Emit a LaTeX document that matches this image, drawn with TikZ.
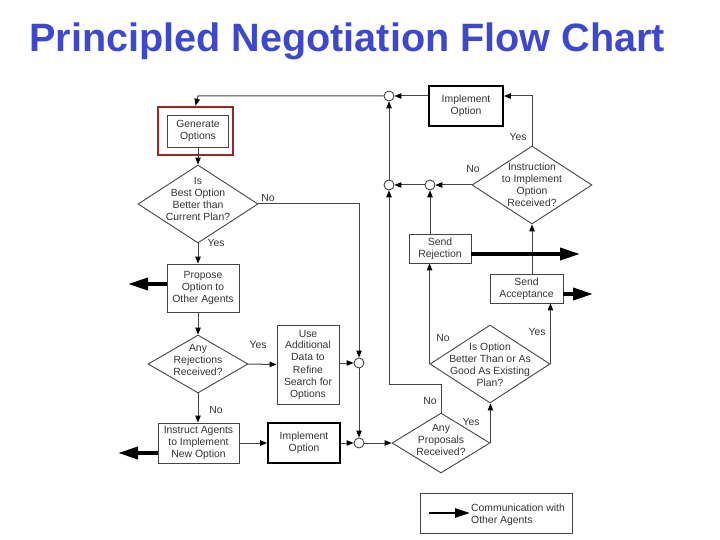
\documentclass[tikz,border=0pt]{standalone}
\usepackage{fontspec}
\setmainfont{Liberation Sans}
\usetikzlibrary{arrows.meta,shapes.geometric}
\definecolor{linegray}{HTML}{444444}
\definecolor{textgray}{HTML}{333333}
\definecolor{titleblue}{RGB}{62,72,204}
\definecolor{hlred}{RGB}{160,36,36}
\newcommand{\chartfont}{\fontsize{10.4}{12}\selectfont}
\tikzset{
  box/.style={draw=linegray, line width=0.9pt, align=center, inner sep=0pt, font=\chartfont, text=textgray},
  thickbox/.style={box, draw=black, line width=1.8pt},
  dia/.style={draw=linegray, line width=0.9pt, diamond, inner sep=0pt},
  txt/.style={align=center, inner sep=0pt, font=\chartfont, text=textgray},
  lbl/.style={inner sep=0pt, font=\chartfont, text=textgray},
  junc/.style={circle, draw=linegray, line width=0.9pt, fill=white, minimum size=10pt, inner sep=0pt},
  arr/.style={draw=linegray, line width=1pt, -{Triangle[length=7pt,width=5.5pt,color=black]}},
  comm/.style={draw=black, line width=3.5pt, -{Triangle[length=20pt,width=12pt]}},
  hlbox/.style={draw=hlred, line width=2.5pt, inner sep=0pt},
}
\begin{document}
\begin{tikzpicture}[x=1pt,y=-1pt]
\useasboundingbox (0,0) rectangle (720,540);

% title
\node[anchor=base west, inner sep=0pt, text=titleblue, font=\fontsize{39.6}{42}\selectfont\bfseries] (ttl) at (29,52) {Principled Negotiation Flow Chart};

% left column
\node[box, minimum width=61pt, minimum height=32pt] (gen) at (198,131) {Generate\\Options};
\node[dia, minimum width=120pt, minimum height=78pt] (d1) at (198,204) {};
\node[txt] (d1t) at (198,199) {Is\\Best Option\\Better than\\Current Plan?};
\node[box, minimum width=72pt, minimum height=48pt] (prop) at (203,288) {Propose\\Option to\\Other Agents};
\node[dia, minimum width=100pt, minimum height=58pt] (d2) at (198,364) {};
\node[txt] (d2t) at (198,360) {Any\\Rejections\\Received?};
\node[box, minimum width=62pt, minimum height=79pt] (use) at (308,364.5) {Use\\Additional\\Data to\\Refine\\Search for\\Options};
\node[box, minimum width=81pt, minimum height=40pt] (ins) at (198.5,443) {Instruct Agents\\to Implement\\New Option};
\node[thickbox, minimum width=72pt, minimum height=40pt] (imp1) at (304,443) {Implement\\Option};

% junctions
\node[junc] (c1) at (359,363) {};
\node[junc] (c2) at (359,443) {};
\node[junc] (c3) at (389,96) {};
\node[junc] (c4) at (389,185) {};
\node[junc] (c5) at (430,185) {};

% right part
\node[dia, minimum width=98pt, minimum height=60pt] (d3) at (441,443) {};
\node[txt] (d3t) at (441,440) {Any\\Proposals\\Received?};
\node[dia, minimum width=120pt, minimum height=78pt] (d4) at (490,364) {};
\node[txt] (d4t) at (490,365) {Is Option\\Better Than or As\\Good As Existing\\Plan?};
\node[box, minimum width=62pt, minimum height=29pt] (rej) at (440,248.5) {Send\\Rejection};
\node[box, minimum width=73pt, minimum height=29pt] (acc) at (526.5,288.5) {Send\\Acceptance};
\node[dia, minimum width=120pt, minimum height=78pt] (d5) at (532,185) {};
\node[txt] (d5t) at (532,185) {Instruction\\to Implement\\Option\\Received?};
\node[thickbox, minimum width=74pt, minimum height=40pt] (imp2) at (466,106) {Implement\\Option};

% highlight
\node[hlbox, minimum width=75pt, minimum height=48pt] (hl) at (195.5,131) {};

% free ends
\coordinate (po) at (128,284);
\coordinate (io) at (118,453);
\coordinate (ro) at (580,254);
\coordinate (ao) at (593,294);
\coordinate (k1) at (359,204);
\coordinate (k2) at (441,384);
\coordinate (k3) at (389,384);
\coordinate (k4) at (532,96);
\coordinate (k5) at (198,96);

% connectors
\draw[arr] (c3.west) -- (k5) -- (hl.north);
\draw[arr] (gen.south) -- (d1.north);
\draw[arr] (d1.east) -- (k1) -- (c1.north);
\draw[arr] (d1.south) -- (d1.south |- prop.north);
\draw[arr] (d1.south |- prop.south) -- (d2.north);
\draw[arr] (d2.east) -- (use.west);
\draw[arr] (use.east |- c1) -- (c1.west);
\draw[arr] (c1.south) -- (c2.north);
\draw[arr] (d2.south) -- (d2.south |- ins.north);
\draw[arr] (ins.east) -- (imp1.west);
\draw[arr] (imp1.east) -- (c2.west);
\draw[arr] (c2.east) -- (d3.west);
\draw[arr] (d3.north) -- (k2) -- (k3) -- (c4.south);
\draw[arr] (c4.north) -- (c3.south);
\draw[arr] (d3.east) -- (d3.east |- d4.south);
\draw[arr] (d4.west) -- (d4.west |- rej.south);
\draw[arr] (d4.east) -- (d4.east |- acc.south);
\draw[arr] (d5.south |- acc.north) -- (d5.south);
\draw[arr] (c5 |- rej.north) -- (c5.south);
\draw[arr] (d5.west) -- (c5.east);
\draw[arr] (c5.west) -- (c4.east);
\draw[arr] (d5.north) -- (k4) -- (imp2.east |- k4);
\draw[arr] (imp2.west |- c3) -- (c3.east);

% communication arrows
\draw[comm] (prop.west |- po) -- (po);
\draw[comm] (ins.west |- io) -- (io);
\draw[comm] (rej.east |- ro) -- (ro);
\draw[comm] (acc.east |- ao) -- (ao);

% labels
\node[lbl] (l1) at (268,198) {No};
\node[lbl] (l2) at (216,243) {Yes};
\node[lbl] (l3) at (258,345) {Yes};
\node[lbl] (l4) at (216,410) {No};
\node[lbl] (l5) at (430,401) {No};
\node[lbl] (l6) at (471,422) {Yes};
\node[lbl] (l7) at (443,338) {No};
\node[lbl] (l8) at (537,332) {Yes};
\node[lbl] (l9) at (473,169) {No};
\node[lbl] (l10) at (518,137) {Yes};

% legend
\node[box, minimum width=152pt, minimum height=40pt] (leg) at (496,513) {};
\coordinate (lega) at (429,513);
\coordinate (legb) at (470,513);
\draw[comm, line width=2.5pt, -{Triangle[length=15pt,width=9pt]}] (lega) -- (legb);
\node[txt, align=left, anchor=west] (legt) at (471,515) {Communication with\\Other Agents};
\end{tikzpicture}
\end{document}
